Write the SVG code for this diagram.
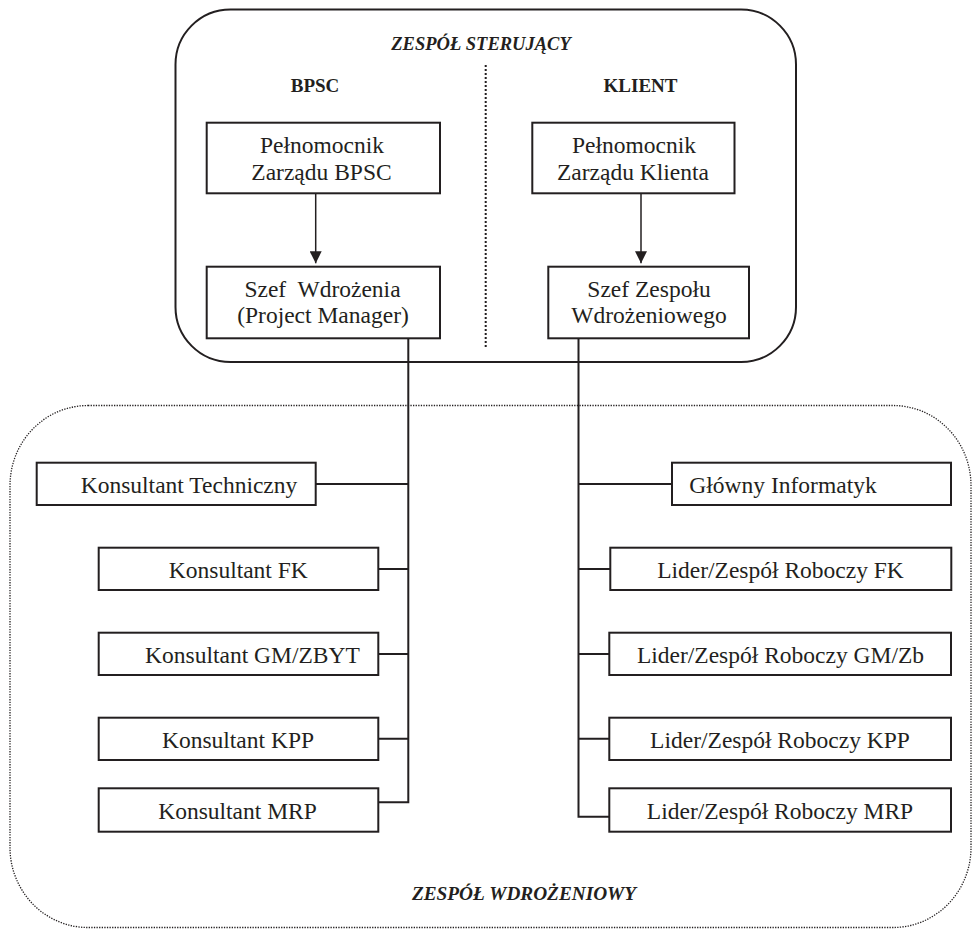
<svg xmlns="http://www.w3.org/2000/svg" width="973" height="929" viewBox="0 0 973 929">
<style>
  .bg { fill: #ffffff; }
  .frame { fill: none; stroke: #231f20; stroke-width: 2; }
  .dotframe { fill: none; stroke: #231f20; stroke-width: 1.3; stroke-dasharray: 1.3 1.3; }
  .divider { fill: none; stroke: #231f20; stroke-width: 2; stroke-dasharray: 2 2; }
  .box { fill: #ffffff; stroke: #231f20; stroke-width: 2; }
  .line { fill: none; stroke: #231f20; stroke-width: 2; }
  .arrow { fill: none; stroke: #231f20; stroke-width: 1.5; }
  .t { font-family: "Liberation Serif", "Times New Roman", serif; font-size: 23.5px; fill: #231f20; text-anchor: middle; }
  .h { font-family: "Liberation Serif", "Times New Roman", serif; font-size: 19px; font-weight: bold; fill: #231f20; text-anchor: middle; }
  .hi { font-family: "Liberation Serif", "Times New Roman", serif; font-weight: bold; font-style: italic; fill: #231f20; text-anchor: middle; }
</style>
<defs>
  <marker id="ah" viewBox="0 0 12 12" refX="12" refY="6" markerWidth="12" markerHeight="12" markerUnits="userSpaceOnUse" orient="auto">
    <path d="M0,0 L12,6 L0,12 Z" fill="#231f20"/>
  </marker>
</defs>
<rect class="bg" x="0" y="0" width="973" height="929"/>

<g id="steering-team">
  <rect class="frame" x="175.5" y="9.5" width="620.5" height="352.5" rx="55" ry="55"/>
  <text class="hi" x="481" y="50" font-size="18.5">ZESPÓŁ STERUJĄCY</text>
  <line class="divider" x1="485.7" y1="65" x2="485.7" y2="349"/>
  <text class="h" x="315" y="92">BPSC</text>
  <text class="h" x="640.5" y="92">KLIENT</text>
</g>

<g id="implementation-team">
  <rect class="dotframe" x="10" y="405.5" width="961" height="522" rx="78" ry="80"/>
  <text class="hi" x="524" y="900" font-size="19.3">ZESPÓŁ WDROŻENIOWY</text>
</g>

<g id="connectors">
  <line class="arrow" x1="315.7" y1="193.3" x2="315.7" y2="263.3" marker-end="url(#ah)"/>
  <line class="arrow" x1="641" y1="193.3" x2="641" y2="263.3" marker-end="url(#ah)"/>
  <path class="line" d="M408.3,336 V802.3 H378.3"/>
  <path class="line" d="M315.7,484 H408.3 M378.3,569 H408.3 M378.3,654 H408.3 M378.3,738.7 H408.3"/>
  <path class="line" d="M578.5,335 V816.7 H609.3"/>
  <path class="line" d="M578.5,484 H672 M578.5,569 H610.3 M578.5,654 H609.3 M578.5,738.7 H609.3"/>
</g>

<g id="pelnomocnik-bpsc">
  <rect class="box" x="206.7" y="122.7" width="233.3" height="70.6"/>
  <text class="t" x="322" y="153">Pełnomocnik</text>
  <text class="t" x="321.5" y="180">Zarządu BPSC</text>
</g>
<g id="pelnomocnik-klient">
  <rect class="box" x="532.3" y="122.7" width="202.2" height="70.6"/>
  <text class="t" x="634" y="153">Pełnomocnik</text>
  <text class="t" x="633" y="180">Zarządu Klienta</text>
</g>
<g id="szef-wdrozenia">
  <rect class="box" x="206.7" y="266.7" width="233.3" height="71.6"/>
  <text class="t" x="322.5" y="296.7" xml:space="preserve">Szef  Wdrożenia</text>
  <text class="t" x="323" y="323">(Project Manager)</text>
</g>
<g id="szef-zespolu">
  <rect class="box" x="548.3" y="266.7" width="200.7" height="71.6"/>
  <text class="t" x="649" y="296.7">Szef Zespołu</text>
  <text class="t" x="649" y="322.5">Wdrożeniowego</text>
</g>

<g id="konsultant-techniczny">
  <rect class="box" x="36.7" y="462.7" width="279" height="42.3"/>
  <text class="t" x="189" y="492.7">Konsultant Techniczny</text>
</g>
<g id="konsultant-fk">
  <rect class="box" x="98.7" y="547.7" width="279.6" height="42.3"/>
  <text class="t" x="238.3" y="577.7">Konsultant FK</text>
</g>
<g id="konsultant-gm-zbyt">
  <rect class="box" x="98.7" y="632.7" width="279.6" height="42.3"/>
  <text class="t" x="252.5" y="662.7">Konsultant GM/ZBYT</text>
</g>
<g id="konsultant-kpp">
  <rect class="box" x="98.7" y="717.7" width="279.6" height="42.3"/>
  <text class="t" x="238" y="747.7">Konsultant KPP</text>
</g>
<g id="konsultant-mrp">
  <rect class="box" x="98.7" y="788.3" width="279.6" height="43.4"/>
  <text class="t" x="237.5" y="819.3">Konsultant MRP</text>
</g>

<g id="glowny-informatyk">
  <rect class="box" x="672" y="462.7" width="279" height="42.3"/>
  <text class="t" x="783" y="492.7">Główny Informatyk</text>
</g>
<g id="lider-fk">
  <rect class="box" x="610.3" y="547.7" width="341" height="42.3"/>
  <text class="t" x="780.5" y="577.7">Lider/Zespół Roboczy FK</text>
</g>
<g id="lider-gm-zb">
  <rect class="box" x="609.3" y="632.7" width="341.7" height="42.3"/>
  <text class="t" x="780.5" y="662.7">Lider/Zespół Roboczy GM/Zb</text>
</g>
<g id="lider-kpp">
  <rect class="box" x="609.3" y="717.7" width="341.7" height="42.3"/>
  <text class="t" x="780" y="747.7">Lider/Zespół Roboczy KPP</text>
</g>
<g id="lider-mrp">
  <rect class="box" x="609.3" y="788.3" width="341.7" height="43.4"/>
  <text class="t" x="780" y="819.3">Lider/Zespół Roboczy MRP</text>
</g>
</svg>
